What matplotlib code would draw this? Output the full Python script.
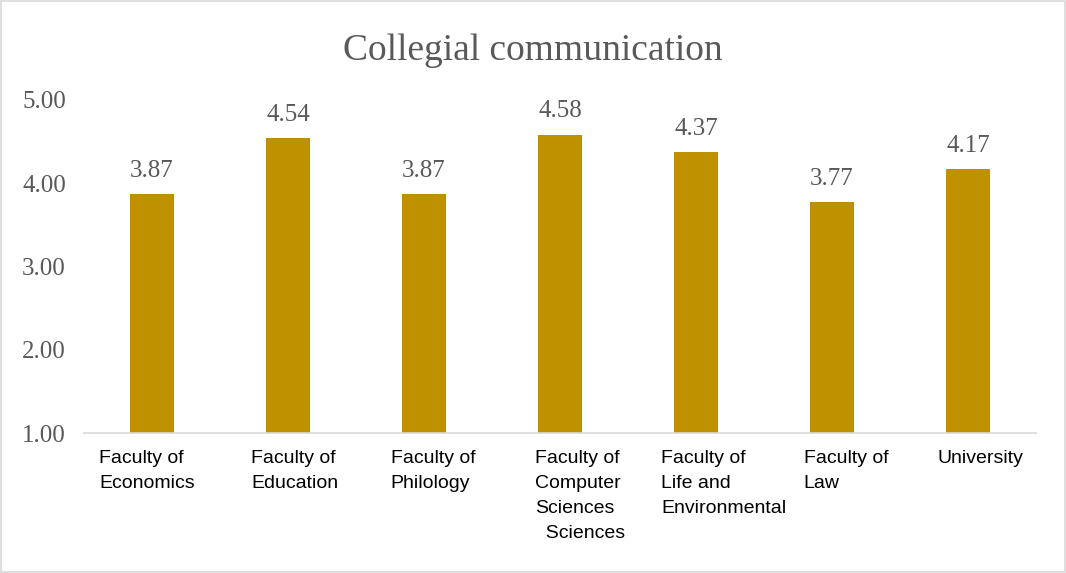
import matplotlib
matplotlib.use("Agg")
import matplotlib.pyplot as plt
from matplotlib.transforms import ScaledTranslation

categories = ["Faculty of\nEconomics", "Faculty of\nEducation", "Faculty of\nPhilology",
              "Faculty of\nComputer\nSciences\n  Sciences", "Faculty of\nLife and\nEnvironmental",
              "Faculty of\nLaw", "University"]
values = [3.87, 4.54, 3.87, 4.58, 4.37, 3.77, 4.17]
yticks = [1.0, 2.0, 3.0, 4.0, 5.0]
title = "Collegial communication"

serif = "Liberation Serif"
sans = "Liberation Sans"
gray = "#595959"
bar_color = "#BF9000"

fig = plt.figure(figsize=(10.66, 5.73), dpi=100)
fig.patches.append(plt.Rectangle((0.001, 0.001), 0.998, 0.997, transform=fig.transFigure,
                                 fill=False, edgecolor="#d9d9d9", linewidth=1.2))
ax = fig.add_axes([0.0788, 0.2443, 0.893, 0.5812])
x = list(range(len(categories)))
ax.bar(x, values, width=0.32, color=bar_color, bottom=0)
ax.set_ylim(1.0, 5.0)
ax.set_xlim(-0.5, len(categories) - 0.5)
ax.set_yticks(yticks)
ax.set_yticklabels([f"{v:.2f}" for v in yticks], fontfamily=serif, fontsize=18, color=gray)
ax.tick_params(axis="y", length=0, pad=13)
ax.set_xticks(x)
ax.set_xticklabels(categories, fontfamily=sans, fontsize=14, color="black",
                   ha="center", va="top", multialignment="left", linespacing=1.62)
ax.tick_params(axis="x", length=0, pad=12)
# small horizontal nudges (in pixels) mimicking the original's label wrapping
nudges = [-5, 7, 9, 20, 28, 14, 12]
for lbl, dx in zip(ax.get_xticklabels(), nudges):
    lbl.set_transform(lbl.get_transform() + ScaledTranslation(dx / 100, 0, fig.dpi_scale_trans))
for s in ["left", "right", "top"]:
    ax.spines[s].set_visible(False)
ax.spines["bottom"].set_color("#d9d9d9")
ax.spines["bottom"].set_linewidth(1.2)
for xi, v in zip(x, values):
    ax.annotate(f"{v:.2f}", (xi, v), xytext=(0, 9), textcoords="offset points",
                ha="center", va="bottom", fontfamily=serif, fontsize=18, color=gray)
fig.text(0.5, 0.912, title, ha="center", va="center", fontfamily=serif, fontsize=27, color=gray)
fig.savefig("out.png", dpi=100)
